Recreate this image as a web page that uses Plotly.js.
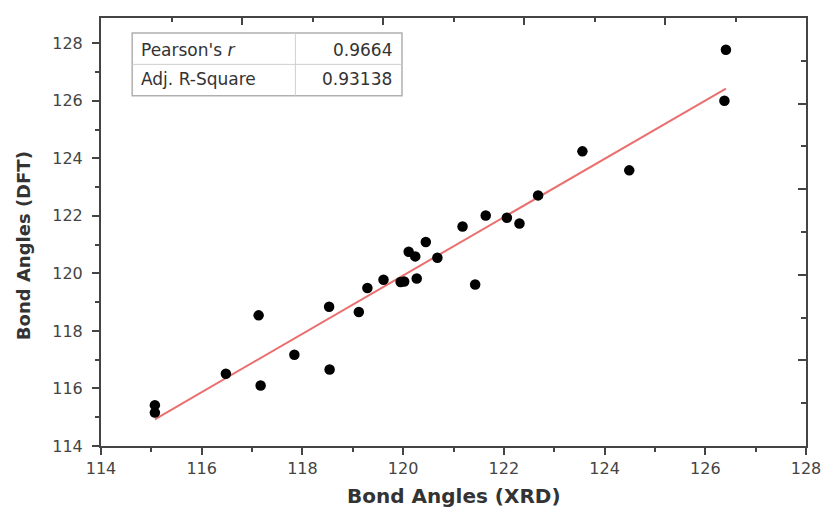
<!DOCTYPE html>
<html>
<head>
<meta charset="utf-8">
<script src="https://cdn.plot.ly/plotly-3.0.1.min.js"></script>
<style>html,body{margin:0;padding:0;background:#fff;}#chart{width:824px;height:512px;}</style>
</head>
<body>
<div id="chart"></div>
<script>
// Data
const xrd = [115.07, 115.07, 116.48, 117.13, 117.17, 117.84, 118.53, 118.54, 119.12, 119.29, 119.61, 119.95, 120.02, 120.27, 120.11, 120.24, 120.45, 120.68, 121.43, 121.18, 121.64, 122.06, 122.31, 122.68, 123.56, 124.49, 126.41, 126.38];
const dft = [115.42, 115.16, 116.51, 118.54, 116.10, 117.17, 118.84, 116.66, 118.66, 119.49, 119.78, 119.70, 119.72, 119.82, 120.75, 120.59, 121.09, 120.54, 119.61, 121.63, 122.01, 121.93, 121.73, 122.71, 124.24, 123.58, 127.77, 126.00];
const statLabels = ["Pearson's <i>r</i>", "Adj. R-Square"];
const statValues = ["0.9664", "0.93138"];
const xTicks = [114, 116, 118, 120, 122, 124, 126, 128];
const yTicks = [114, 116, 118, 120, 122, 124, 126, 128];

// Least-squares linear fit computed from the data
const n = xrd.length;
const mx = xrd.reduce((a, b) => a + b, 0) / n;
const my = dft.reduce((a, b) => a + b, 0) / n;
let sxy = 0, sxx = 0;
for (let i = 0; i < n; i++) { sxy += (xrd[i] - mx) * (dft[i] - my); sxx += (xrd[i] - mx) ** 2; }
const slope = sxy / sxx;
const intercept = my - slope * mx;
const fitX = [Math.min(...xrd), Math.max(...xrd)];
const fitY = fitX.map(x => intercept + slope * x);

// Plot geometry (pixels)
const L = 100.5, R = 806, T = 18.3, B = 446.5;
const W = 824, H = 512;
const px = v => (v - L) / (R - L);
const py = v => (B - v) / (B - T);

const FONT = "DejaVu Sans, Arial, sans-serif";
const AX = "#444";

const traces = [
  {x: fitX, y: fitY, mode: 'lines', line: {color: '#ea7070', width: 2}, hoverinfo: 'skip', showlegend: false},
  {x: xrd, y: dft, mode: 'markers', marker: {color: '#000', size: 10.5}, showlegend: false},
  {x: [0, 10], y: [0, 10], xaxis: 'x2', yaxis: 'y2', mode: 'markers', marker: {opacity: 0}, hoverinfo: 'skip', showlegend: false}
];

const boxX0 = px(131.7), boxX1 = px(401.7), boxXm = px(295);
const boxY0 = py(33.3), boxY1 = py(96), boxYm = py(64.7);
const boxLine = {color: '#b0b0b0', width: 1.5};

const annotations = [
  {xref: 'paper', yref: 'paper', x: px(139), y: py(50), xanchor: 'left', yanchor: 'middle', text: statLabels[0], showarrow: false, font: {family: FONT, size: 17, color: '#333'}},
  {xref: 'paper', yref: 'paper', x: px(139), y: py(79), xanchor: 'left', yanchor: 'middle', text: statLabels[1], showarrow: false, font: {family: FONT, size: 17, color: '#333'}},
  {xref: 'paper', yref: 'paper', x: px(394), y: py(50), xanchor: 'right', yanchor: 'middle', text: statValues[0], showarrow: false, font: {family: FONT, size: 17, color: '#333'}},
  {xref: 'paper', yref: 'paper', x: px(394), y: py(79), xanchor: 'right', yanchor: 'middle', text: statValues[1], showarrow: false, font: {family: FONT, size: 17, color: '#333'}},
  {xref: 'paper', yref: 'paper', x: px(453.3), y: py(497), xanchor: 'center', yanchor: 'middle', text: '<b>Bond Angles (XRD)</b>', showarrow: false, font: {family: FONT, size: 20, color: '#333'}},
  {xref: 'paper', yref: 'paper', x: px(23), y: py(246), xanchor: 'center', yanchor: 'middle', textangle: -90, text: '<b>Bond Angles (DFT)</b>', showarrow: false, font: {family: FONT, size: 18, color: '#333'}}
];

const shapes = [
  {type: 'rect', xref: 'paper', yref: 'paper', x0: boxX0, x1: boxX1, y0: boxY1, y1: boxY0, line: boxLine, fillcolor: 'rgba(0,0,0,0)'},
  {type: 'line', xref: 'paper', yref: 'paper', x0: boxX0, x1: boxX1, y0: boxYm, y1: boxYm, line: {color: '#cfcfcf', width: 1}},
  {type: 'line', xref: 'paper', yref: 'paper', x0: boxXm, x1: boxXm, y0: boxY1, y1: boxY0, line: {color: '#cfcfcf', width: 1}}
];

const layout = {
  width: W, height: H,
  margin: {l: L, r: W - R, t: T, b: H - B, pad: 0},
  paper_bgcolor: '#fff', plot_bgcolor: '#fff',
  showlegend: false,
  font: {family: FONT, color: '#444', size: 16},
  xaxis: {
    range: [114, 128], tickmode: 'array', tickvals: xTicks, ticktext: xTicks.map(String),
    ticks: 'outside', ticklen: 7, tickwidth: 2, tickcolor: AX,
    minor: {dtick: 1, ticks: 'outside', ticklen: 4, tickwidth: 2, tickcolor: AX, showgrid: false},
    showline: true, linecolor: AX, linewidth: 2, mirror: true,
    showgrid: false, zeroline: false, tickfont: {family: FONT, size: 16, color: '#444'}
  },
  yaxis: {
    range: [114, 128.875], tickmode: 'array', tickvals: yTicks, ticktext: yTicks.map(String),
    ticks: 'outside', ticklen: 7, tickwidth: 2, tickcolor: AX, ticklabelstandoff: 6,
    minor: {dtick: 1, ticks: 'outside', ticklen: 4, tickwidth: 2, tickcolor: AX, showgrid: false},
    showline: true, linecolor: AX, linewidth: 2, mirror: true,
    showgrid: false, zeroline: false, tickfont: {family: FONT, size: 16, color: '#444'}
  },
  xaxis2: {
    overlaying: 'x', side: 'top', anchor: 'y2', range: [0, 10], dtick: 2, tick0: 0,
    ticks: 'inside', ticklen: 7, tickwidth: 2, tickcolor: AX,
    minor: {dtick: 1, ticks: 'inside', ticklen: 4, tickwidth: 2, tickcolor: AX, showgrid: false},
    showticklabels: false, showline: false, showgrid: false, zeroline: false
  },
  yaxis2: {
    overlaying: 'y', side: 'right', anchor: 'x2', range: [0, 10], dtick: 2, tick0: 0,
    ticks: 'inside', ticklen: 8, tickwidth: 2, tickcolor: AX,
    minor: {dtick: 1, ticks: 'inside', ticklen: 5, tickwidth: 2, tickcolor: AX, showgrid: false},
    showticklabels: false, showline: false, showgrid: false, zeroline: false
  },
  annotations: annotations,
  shapes: shapes
};

Plotly.newPlot('chart', traces, layout, {staticPlot: true, displayModeBar: false});
</script>
</body>
</html>
